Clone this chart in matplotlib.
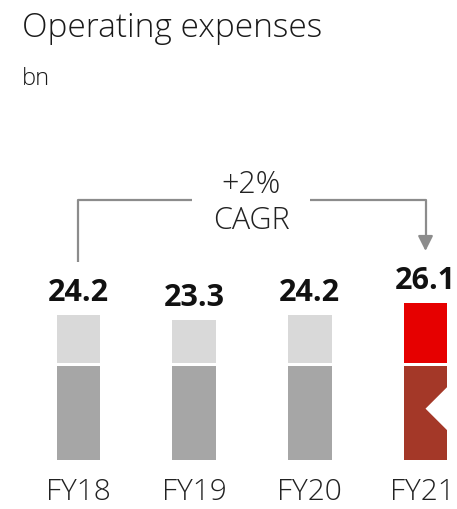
import numpy as np
import matplotlib.pyplot as plt
from matplotlib.patches import Polygon

plt.rcParams['font.family'] = ['Open Sans', 'DejaVu Sans']

# data
years = ["FY18", "FY19", "FY20", "FY21"]
totals = [24.2, 23.3, 24.2, 26.1]
base = [15.7, 15.7, 15.7, 15.7]   # lower block, same height for all
cagr_text = "+2%\nCAGR"

# styles
light = ["#d9d9d9", "#d9d9d9", "#d9d9d9", "#e60000"]
dark = ["#a6a6a6", "#a6a6a6", "#a6a6a6", "#a43828"]
gap = 0.45
width = 0.38
pxu = 6.0  # px per bn

fig = plt.figure(figsize=(4.57, 5.09), dpi=100)
ax = fig.add_axes([0, 0, 1, 1])
ax.set_xlim(-78.5 / 115.67, (457 - 78.5) / 115.67)
ax.set_ylim(-49 / pxu, (509 - 49) / pxu)
ax.axis("off")

x = np.arange(len(years))
top_h = [t - b - gap for t, b in zip(totals, base)]
ax.bar(x, base, width, color=dark, linewidth=0)
ax.bar(x, top_h, width, bottom=[b + gap for b in base], color=light, linewidth=0)

# chevron notch on the last bar
i = len(years) - 1
xr = x[i] + width / 2
h = base[i]
notch = Polygon([(xr + 0.01, 0.30 * h), (x[i], 0.545 * h), (xr + 0.01, 0.79 * h)],
                closed=True, facecolor="white", edgecolor="none", zorder=3)
ax.add_patch(notch)

# value labels
for xi, t in zip(x, totals):
    ax.text(xi, t + 14 / pxu, f"{t:.1f}", ha="center", va="baseline",
            fontsize=22, fontweight="bold", color="#111111")

# category labels
for xi, lab in zip(x, years):
    ax.text(xi - (0.03 if lab == years[-1] else 0), -40 / pxu, lab, ha="center",
            va="baseline", fontsize=21.5, fontweight="light", color="#222222")

# CAGR bracket
ylev = (460 - 200) / pxu
gc = "#8c8c8c"
xm = 1.495
ax.plot([x[0], x[0], xm - 0.51], [(460 - 262) / pxu, ylev, ylev], color=gc, lw=1.6,
        solid_capstyle="butt")
ax.plot([xm + 0.51, x[-1], x[-1]], [ylev, ylev, (460 - 236) / pxu], color=gc, lw=1.6,
        solid_capstyle="butt")
ax.annotate("", xy=(x[-1], (460 - 251) / pxu), xytext=(x[-1], (460 - 236) / pxu),
            arrowprops=dict(arrowstyle="-|>,head_length=0.9,head_width=0.45",
                            color=gc, lw=1.6, shrinkA=0, shrinkB=0))
ax.text(xm, (460 - 203) / pxu, cagr_text, ha="center", va="center", fontsize=22,
        fontweight="light", color="#222222", linespacing=1.2)

# title
fig.text(22 / 457, 1 - 37 / 509, "Operating expenses", fontsize=24, fontweight="light",
         color="#1a1a1a", va="baseline", ha="left")
fig.text(22 / 457, 1 - 85 / 509, "bn", fontsize=17, fontweight="light", color="#1a1a1a",
         va="baseline", ha="left")

fig.savefig("out.png", dpi=100)
